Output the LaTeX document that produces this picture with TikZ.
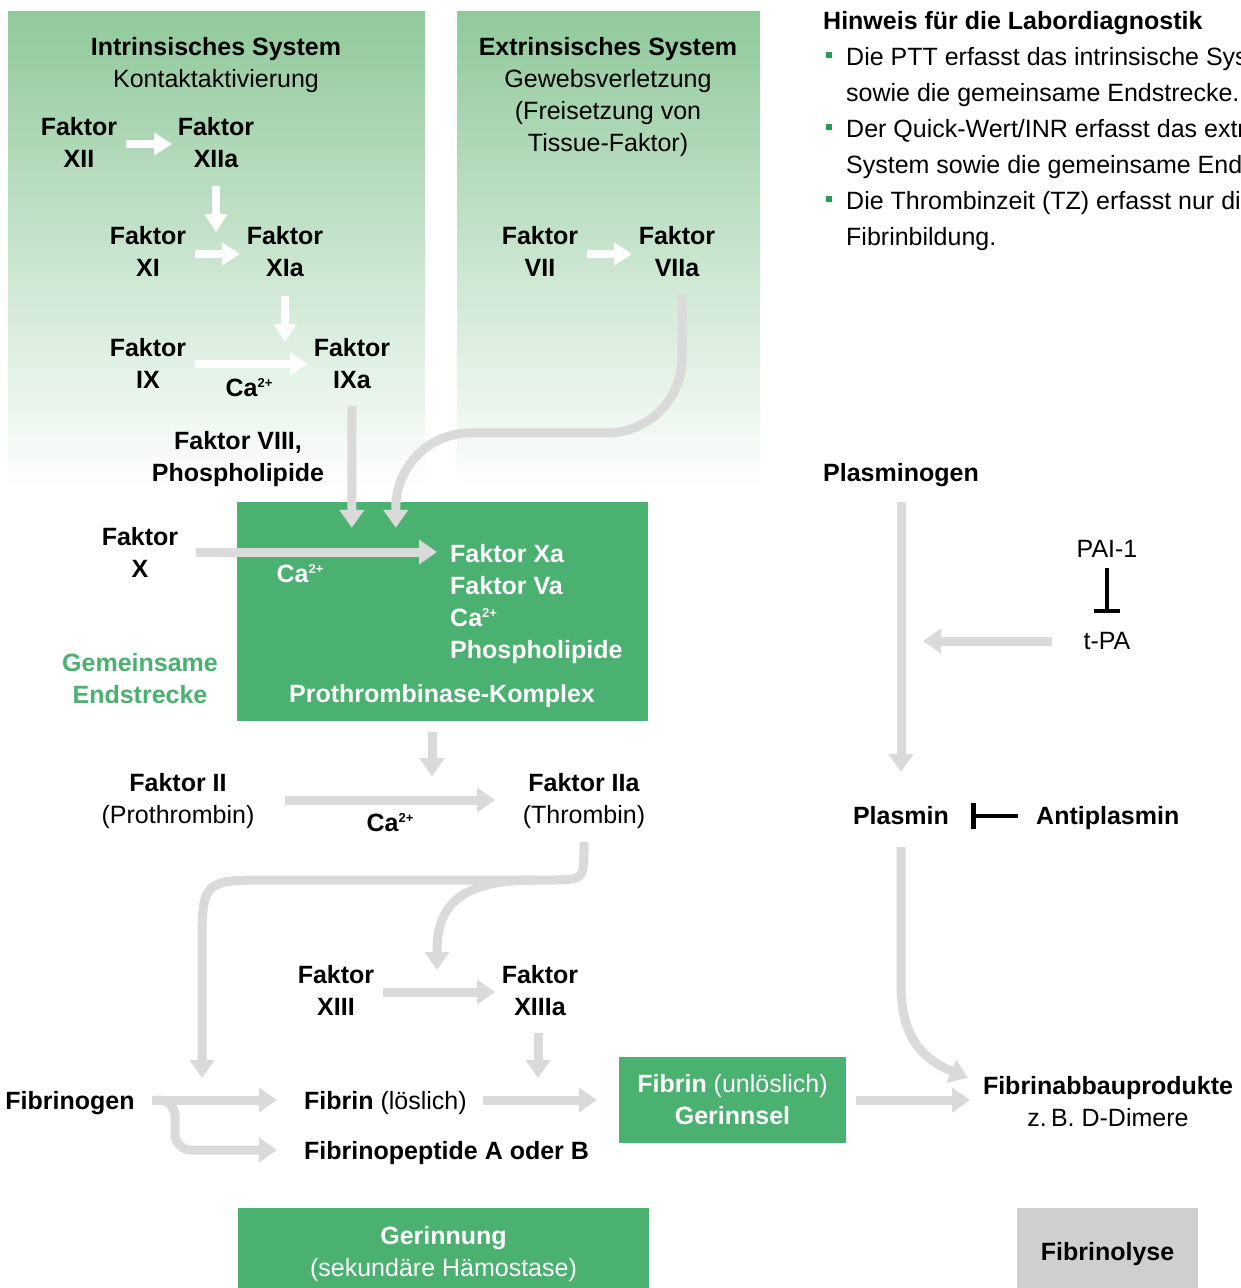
\documentclass[tikz,border=0pt]{standalone}
\usepackage{fontspec}
\setmainfont{Liberation Sans}
\usetikzlibrary{arrows.meta,calc}
\definecolor{hgreen}{RGB}{74,177,112}
\definecolor{tgreen}{RGB}{144,201,155}
\definecolor{lgray}{RGB}{218,218,218}
\definecolor{bgray}{RGB}{207,207,207}
\definecolor{bulletgreen}{RGB}{30,158,78}
\newcommand{\caion}{Ca\raisebox{8.5pt}{\fontsize{13}{13}\selectfont 2+}}
\tikzset{
  txt/.style={inner sep=0pt, anchor=base, align=center, font=\fontsize{25}{32}\selectfont},
  btxt/.style={txt, font=\fontsize{25}{32}\selectfont\bfseries},
  gbox/.style={fill=hgreen, draw=none, inner sep=0pt, align=center, text=white, font=\fontsize{25}{32}\selectfont},
  garrow/.style={draw=lgray, line width=9pt, -{Triangle[length=18pt,width=24pt]}},
  warrow/.style={draw=white, line width=8pt, -{Triangle[length=18pt,width=22pt]}},
  inhib/.style={draw=black, line width=4.5pt, -{Bar[width=26pt]}},
}
\begin{document}
\begin{tikzpicture}[x=1pt,y=-1pt]
\useasboundingbox (0,0) rectangle (1240,1288);
\clip (0,0) rectangle (1240,1288);
\fill[white] (0,0) rectangle (1240,1288);

% background panels
\shade[top color=tgreen,bottom color=white] (8,11) rectangle (425,490);
\shade[top color=tgreen,bottom color=white] (457,11) rectangle (760,490);

% boxes
\node[gbox, minimum width=411pt, minimum height=219pt] (pbox) at (442.5,611.5) {};
\node[gbox, minimum width=227pt, minimum height=86pt] (fbox) at (732.5,1100) {\textbf{Fibrin} (unlöslich)\\\textbf{Gerinnsel}};
\node[gbox, minimum width=411pt, minimum height=92pt] (gerbox) at (443.5,1254) {\textbf{Gerinnung}\\(sekundäre Hämostase)};
\node[gbox, fill=bgray, text=black, minimum width=181pt, minimum height=92pt] (fbl) at (1107.5,1254) {\textbf{Fibrinolyse}};

% intrinsic system (base = baseline of last line)
\node[txt] (intr) at (216,87) {\textbf{Intrinsisches System}\\Kontaktaktivierung};
\node[btxt] (f12) at (79,167) {Faktor\\XII};
\node[btxt] (f12a) at (216,167) {Faktor\\XIIa};
\node[btxt] (f11) at (148,276) {Faktor\\XI};
\node[btxt] (f11a) at (285,276) {Faktor\\XIa};
\node[btxt] (f9) at (148,388) {Faktor\\IX};
\node[btxt] (f9a) at (352,388) {Faktor\\IXa};
\node[btxt] (ca1) at (249,396) {\caion};
\node[btxt] (f8) at (238,481) {Faktor VIII,\\Phospholipide};

% extrinsic system
\node[txt] (extr) at (608,151) {\textbf{Extrinsisches System}\\Gewebsverletzung\\(Freisetzung von\\Tissue-Faktor)};
\node[btxt] (f7) at (540,276) {Faktor\\VII};
\node[btxt] (f7a) at (677,276) {Faktor\\VIIa};

% common pathway
\node[btxt] (f10) at (140,577) {Faktor\\X};
\node[btxt, text=white] (ca2) at (300,582) {\caion};
\node[btxt, text=white, anchor=base west, align=left] (komplex) at (450,658) {Faktor Xa\\Faktor Va\\\caion\\Phospholipide};
\node[btxt, text=white] (pkl) at (442,702) {Prothrombinase-Komplex};
\node[btxt, text=hgreen] (gem) at (140,703) {Gemeinsame\\Endstrecke};

\node[txt] (f2) at (178,823) {\textbf{Faktor II}\\(Prothrombin)};
\node[btxt] (ca3) at (390,831) {\caion};
\node[txt] (f2a) at (584,823) {\textbf{Faktor IIa}\\(Thrombin)};
\node[btxt] (f13) at (336,1015) {Faktor\\XIII};
\node[btxt] (f13a) at (540,1015) {Faktor\\XIIIa};
\node[btxt] (fibrinogen) at (70,1109) {Fibrinogen};
\node[txt, anchor=base west] (fibrin) at (304,1109) {\textbf{Fibrin} (löslich)};
\node[btxt, anchor=base west] (fpep) at (304,1159) {Fibrinopeptide A oder B};
\node[txt] (fdp) at (1108,1126) {\textbf{Fibrinabbauprodukte}\\z.\,B. D-Dimere};

% hint
\node[btxt, anchor=base west] (htitle) at (823,29) {Hinweis für die Labordiagnostik};
\node[txt, anchor=base west, align=left, font=\fontsize{25}{36}\selectfont] (hin) at (846,245)
  {Die PTT erfasst das intrinsische System\\sowie die gemeinsame Endstrecke.\\Der Quick-Wert/INR erfasst das extrinsische\\System sowie die gemeinsame Endstrecke.\\Die Thrombinzeit (TZ) erfasst nur die\\Fibrinbildung.};
\fill[bulletgreen] (825.5,51.5) rectangle ++(6,6);
\fill[bulletgreen] (825.5,123.5) rectangle ++(6,6);
\fill[bulletgreen] (825.5,195.5) rectangle ++(6,6);

% fibrinolysis
\node[btxt] (plasminogen) at (901,481) {Plasminogen};
\node[txt] (pai) at (1107,557) {PAI-1};
\node[txt] (tpa) at (1107,649) {t-PA};
\node[btxt] (plasmin) at (901,824) {Plasmin};
\node[btxt, anchor=base west] (antipl) at (1036,824) {Antiplasmin};
\coordinate (tpaend) at ($(plasminogen.base)+(22,160)$);

% white arrows
\draw[warrow] ($(f12.base)+(47,-23)$) -- ($(f12a.base)+(-44,-23)$);
\draw[warrow] ($(f12a.base)+(0,19)$) -- ($(f12a.base)+(0,65)$);
\draw[warrow] ($(f11.base)+(47,-22)$) -- ($(f11a.base)+(-45,-22)$);
\draw[warrow] ($(f11a.base)+(0,20)$) -- ($(f11a.base)+(0,66)$);
\draw[warrow] ($(f9.base)+(47,-24)$) -- ($(f9a.base)+(-44,-24)$);
\draw[warrow] ($(f7.base)+(47,-22)$) -- ($(f7a.base)+(-45,-22)$);

% gray arrows
\draw[garrow] ($(f9a.base)+(0,18)$) -- ($(pbox.north west)+(115,26)$);
\draw[garrow, rounded corners=75pt] ($(f7a.base)+(5,19)$) -- ($(f7a.base)+(5,157)$) -- ($(pbox.north west)+(159,-69)$) -- ($(pbox.north west)+(159,26)$);
\draw[garrow] ($(f10.base)+(56,-25)$) -- ($(komplex.base west)+(-13,-106)$);
\draw[garrow] ($(pbox.south)+(-10.5,11)$) -- ($(pbox.south)+(-10.5,55)$);
\draw[garrow] ($(f2.base)+(107,-23)$) -- ($(f2a.base)+(-89,-23)$);
\draw[garrow] ($(f2a.base)+(0,19)$) -- ($(f2a.base)+(0,22)$) .. controls ($(f2a.base)+(0,57)$) .. ($(f2a.base)+(-35,57)$) -- ($(f2a.base)+(-312,57)$) .. controls ($(f2a.base)+(-382,57)$) .. ($(f2a.base)+(-382,127)$) -- ($(fibrin.base west)+(-102,-31)$);
\draw[garrow] ($(f2a.base)+(-50,57)$) .. controls ($(f2a.base)+(-125,57)$) and ($(f13.base)+(101,-108)$) .. ($(f13.base)+(101,-65)$) -- ($(f13.base)+(101,-45)$);
\draw[garrow] ($(f13.base)+(47,-23)$) -- ($(f13a.base)+(-45,-23)$);
\draw[garrow] ($(f13a.base)+(-2,18)$) -- ($(f13a.base)+(-2,63)$);
\draw[garrow] ($(fibrinogen.base)+(82,-9)$) -- ($(fibrin.base west)+(-27,-9)$);
\draw[garrow, rounded corners=16pt] ($(fibrinogen.base)+(84,-9)$) -- ($(fibrinogen.base)+(105,-9)$) -- ($(fibrinogen.base)+(105,41)$) -- ($(fpep.base west)+(-27,-9)$);
\draw[garrow] ($(fibrin.base west)+(179,-9)$) -- ($(fbox.west)+(-22,0)$);
\draw[garrow] ($(fbox.east)+(10,0)$) -- ($(fdp.base)+(-138,-26)$);
\draw[garrow] ($(plasminogen.base)+(0,21)$) -- ($(plasmin.base)+(0,-52)$);
\draw[garrow] ($(tpa.base)+(-55,-8)$) -- (tpaend);
\draw[garrow] ($(plasmin.base)+(0,23)$) -- ($(plasmin.base)+(0,161)$) .. controls ($(plasmin.base)+(0,216)$) and ($(plasmin.base)+(24,236)$) .. ($(fdp.base)+(-140,-48)$);

% inhibitions
\draw[inhib] ($(pai.base)+(0,11)$) -- ($(tpa.base)+(0,-36)$);
\draw[inhib] ($(antipl.base west)+(-18,-8)$) -- ($(plasmin.base)+(70,-8)$);
\end{tikzpicture}
\end{document}
